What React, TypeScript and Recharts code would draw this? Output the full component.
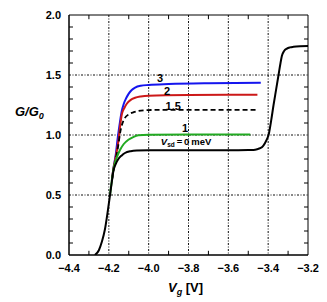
import React from "react";
import {
  LineChart,
  Line,
  XAxis,
  YAxis,
  CartesianGrid,
  ReferenceLine,
  ReferenceArea,
  ReferenceDot,
} from "recharts";

// ---- data ----
const xTicks = [-4.4, -4.2, -4.0, -3.8, -3.6, -3.4, -3.2];
const yTicks = [0, 0.5, 1.0, 1.5, 2.0];
const xGrid = [-4.2, -4.0, -3.8, -3.6, -3.4];
const yGrid = [0.5, 1.0, 1.5];
const xMinor = [-4.3, -4.1, -3.9, -3.7, -3.5, -3.3];
const yMinor = [0.1, 0.2, 0.3, 0.4, 0.6, 0.7, 0.8, 0.9, 1.1, 1.2, 1.3, 1.4, 1.6, 1.7, 1.8, 1.9];

const v0X = [-4.27, -4.25, -4.235, -4.22, -4.205, -4.194, -4.185, -4.177, -4.165, -4.152, -4.135, -4.119, -4.09, -4.06, -4.0, -3.8, -3.6, -3.5, -3.474, -3.455, -3.44, -3.425, -3.415, -3.405, -3.398, -3.385, -3.373, -3.36, -3.348, -3.338, -3.331, -3.32, -3.306, -3.29, -3.273, -3.24, -3.2];
const v0Y = [0, 0.04, 0.11, 0.21, 0.37, 0.5, 0.61, 0.7, 0.76, 0.8, 0.83, 0.85, 0.865, 0.87, 0.872, 0.872, 0.872, 0.874, 0.876, 0.882, 0.89, 0.91, 0.935, 0.97, 1.0, 1.12, 1.25, 1.38, 1.5, 1.6, 1.66, 1.7, 1.72, 1.73, 1.735, 1.74, 1.742];

const v1X = [-4.194, -4.185, -4.177, -4.169, -4.156, -4.144, -4.125, -4.102, -4.075, -4.052, -4.0, -3.8, -3.6, -3.49];
const v1Y = [0.5, 0.62, 0.71, 0.77, 0.83, 0.875, 0.925, 0.96, 0.985, 0.997, 1.003, 1.005, 1.005, 1.005];

const v15X = [-4.185, -4.177, -4.165, -4.152, -4.143, -4.135, -4.12, -4.102, -4.075, -4.052, -4.0, -3.8, -3.457];
const v15Y = [0.62, 0.71, 0.8, 0.92, 1.02, 1.08, 1.14, 1.17, 1.19, 1.2, 1.208, 1.21, 1.21];

const v2X = [-4.185, -4.177, -4.165, -4.152, -4.143, -4.135, -4.122, -4.11, -4.09, -4.068, -4.04, -4.0, -3.8, -3.454];
const v2Y = [0.62, 0.72, 0.82, 0.95, 1.08, 1.17, 1.225, 1.26, 1.293, 1.31, 1.321, 1.328, 1.333, 1.335];

const v3X = [-4.185, -4.177, -4.165, -4.155, -4.144, -4.135, -4.125, -4.112, -4.1, -4.085, -4.068, -4.04, -4.0, -3.9, -3.7, -3.437];
const v3Y = [0.62, 0.72, 0.84, 0.98, 1.11, 1.2, 1.26, 1.31, 1.345, 1.375, 1.395, 1.41, 1.417, 1.425, 1.432, 1.435];

const labelNames = ["3", "2", "1.5", "1", "Vsd"];
const labelX = [-3.943, -3.908, -3.877, -3.817, -3.812];
const labelY = [1.475, 1.367, 1.242, 1.058, 0.946];

const toPts = (xs: number[], ys: number[]) => xs.map((x, i) => ({ x, y: ys[i] }));

const FONT = "'Liberation Sans', Arial, Helvetica, sans-serif";

const fmt = (v: number) => {
  const s = v.toFixed(1);
  return s.startsWith("-") ? "\u2212" + s.slice(1) : s;
};

const CurveLabel = (props: any) => {
  const { cx, cy, name } = props;
  if (name === "Vsd") {
    return (
      <text x={cx} y={cy + 3.5} textAnchor="middle" fontFamily={FONT} fontWeight="bold" fontSize={9.5} fill="#000">
        <tspan fontStyle="italic">V</tspan>
        <tspan fontSize={6.5} dy={2}>sd</tspan>
        <tspan dy={-2}>{"\u2009=\u20090\u2009meV"}</tspan>
      </text>
    );
  }
  return (
    <text x={cx} y={cy + 4} textAnchor="middle" fontFamily={FONT} fontWeight="bold" fontSize={11} fill="#000">
      {name}
    </text>
  );
};

export default function App() {
  return (
    <LineChart width={319} height={290} margin={{ top: 7, right: 19, left: 0, bottom: 18 }}>
      <CartesianGrid
        stroke="#111"
        strokeDasharray="2 1.5 1 1.5"
        horizontalValues={yGrid}
        verticalValues={xGrid}
      />
      <XAxis
        type="number"
        dataKey="x"
        domain={[-4.4, -3.2]}
        ticks={xTicks}
        tickFormatter={fmt}
        allowDataOverflow
        height={25}
        tickSize={0}
        tickMargin={9}
        axisLine={{ stroke: "#000" }}
        tickLine={false}
        tick={{ fill: "#000", fontSize: 11, fontWeight: "bold", fontFamily: FONT }}
        label={{
          content: (p: any) => {
            const vb = p.viewBox;
            return (
              <text x={vb.x + 99} y={vb.y + 37} fontFamily={FONT} fontWeight="bold" fontSize={13} fill="#000">
                <tspan fontStyle="italic">V</tspan>
                <tspan fontStyle="italic" fontSize={9} dy={3}>g</tspan>
                <tspan dy={-3}> [V]</tspan>
              </text>
            );
          },
        }}
      />
      <YAxis
        type="number"
        dataKey="y"
        domain={[0, 2]}
        ticks={yTicks}
        tickFormatter={(v: number) => v.toFixed(1)}
        allowDataOverflow
        width={61}
        tickSize={0}
        tickMargin={8}
        axisLine={{ stroke: "#000" }}
        tickLine={false}
        tick={{ fill: "#000", fontSize: 11, fontWeight: "bold", fontFamily: FONT }}
        label={{
          content: (p: any) => {
            const vb = p.viewBox;
            return (
              <text x={vb.x + 7} y={vb.y + 101} fontFamily={FONT} fontWeight="bold" fontStyle="italic" fontSize={13} fill="#000">
                <tspan>G/G</tspan>
                <tspan fontSize={9} dy={3}>0</tspan>
              </text>
            );
          },
        }}
      />
      <ReferenceArea x1={-4.4} x2={-3.2} y1={0} y2={2} fill="none" fillOpacity={0} stroke="#000" strokeWidth={1} />
      {xMinor.map((x) => (
        <ReferenceLine key={"xb" + x} segment={[{ x, y: 0 }, { x, y: 0.035 }]} stroke="#000" />
      ))}
      {xMinor.map((x) => (
        <ReferenceLine key={"xt" + x} segment={[{ x, y: 2 }, { x, y: 1.965 }]} stroke="#000" />
      ))}
      {yMinor.map((y) => (
        <ReferenceLine key={"yl" + y} segment={[{ x: -4.4, y }, { x: -4.38, y }]} stroke="#000" />
      ))}
      {yMinor.map((y) => (
        <ReferenceLine key={"yr" + y} segment={[{ x: -3.2, y }, { x: -3.22, y }]} stroke="#000" />
      ))}
      <Line data={toPts(v3X, v3Y)} dataKey="y" type="monotone" stroke="#1515ee" strokeWidth={2} dot={false} isAnimationActive={false} />
      <Line data={toPts(v2X, v2Y)} dataKey="y" type="monotone" stroke="#cc1818" strokeWidth={2} dot={false} isAnimationActive={false} />
      <Line data={toPts(v15X, v15Y)} dataKey="y" type="monotone" stroke="#000" strokeWidth={1.8} strokeDasharray="5 3" dot={false} isAnimationActive={false} />
      <Line data={toPts(v1X, v1Y)} dataKey="y" type="monotone" stroke="#22aa22" strokeWidth={2} dot={false} isAnimationActive={false} />
      <Line data={toPts(v0X, v0Y)} dataKey="y" type="monotone" stroke="#000" strokeWidth={2} dot={false} isAnimationActive={false} />
      {labelNames.map((n, i) => (
        <ReferenceDot
          key={n}
          x={labelX[i]}
          y={labelY[i]}
          r={0}
          shape={(p: any) => <CurveLabel {...p} name={n} />}
        />
      ))}
    </LineChart>
  );
}
